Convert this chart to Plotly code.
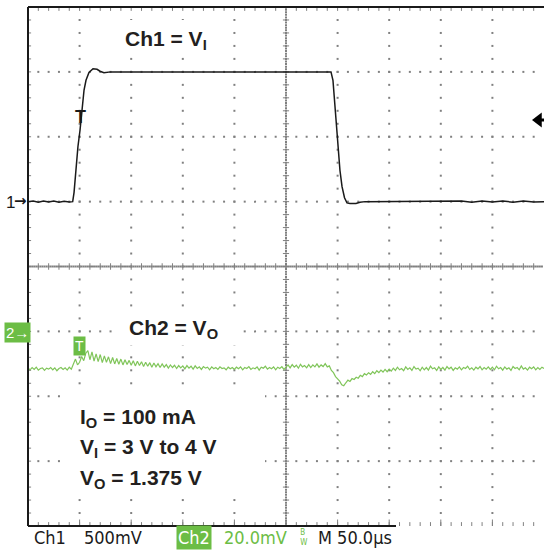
import plotly.graph_objects as go

# ---------------- data ----------------
# Ch1 = V_I  (volts), 500 mV/div, ground marker at +1 div, 3 V shown at marker
ch1_t_us = [0, 5, 10, 15, 20, 25, 30, 35, 40,
            43.3, 44.6, 46.5, 48.4, 50.4, 52.3, 54.3, 56.2, 59.1, 63.0, 66.9, 69.8, 73.6,
            80, 150, 220,
            293.6, 295.5, 297.0, 298.4, 300.4, 302.3, 304.3, 306.7, 309.1, 312.0, 317.8, 321.7, 326.6,
            360, 400, 420, 430, 440, 450, 460, 470, 480, 490, 500]
ch1_v = [3.0, 3.004, 2.996, 3.005, 2.997, 3.004, 2.996, 3.003, 2.998,
         3.0, 3.07, 3.255, 3.425, 3.55, 3.72, 3.86, 3.935, 3.995, 4.024, 4.02, 4.005, 3.994,
         4.0, 4.0, 4.0,
         4.0, 3.935, 3.78, 3.59, 3.39, 3.24, 3.115, 3.03, 2.99, 2.985, 2.985, 2.995, 3.0,
         3.0, 3.0, 3.004, 2.996, 3.005, 2.997, 3.004, 2.996, 3.005, 2.997, 3.0]

# Ch2 = V_O ripple (mV), 20 mV/div, one sample every 2 us from 0 to 500 us
ch2_step_us = 2
ch2_mv = [
    0.2, -0.3, 0.4, -0.2, 0.5, -0.4, 0.1, 0.3, -0.5, 0.2, -0.1, 0.4, -0.3, 0.3, -0.6, 0.1, 0.4, -0.2, 0.3, -0.4, 0.5, -0.1, 1.5, 3.0, 1.2,
    2.0, 3.8, 2.5, 4.8, 5.6, 2.8, 5.2, 2.4, 4.6, 2.2, 4.4, 1.9, 4.0, 2.0, 3.7, 1.6, 3.5, 1.5, 3.2, 1.4, 3.0, 1.2, 2.8, 1.3, 2.6,
    1.1, 2.5, 0.9, 2.3, 1.0, 2.2, 0.7, 2.0, 0.8, 1.9, 0.5, 1.8, 0.6, 1.6, 0.4, 1.5, 0.5, 1.3, 0.2, 1.2, 0.4, 1.1, 0.1, 1.0, 0.3,
    0.9, 0.0, 1.0, 0.2, 0.8, -0.1, 0.9, 0.1, 0.6, -0.2, 0.7, 0.2, 0.5, -0.3, 0.6, 0.0, 0.4, -0.2, 0.6, 0.1, 0.3, -0.3, 0.5, 0.0, 0.4,
    -0.2, 0.5, 0.0, 0.6, -0.3, 0.4, 0.1, 0.7, -0.2, 0.3, 0.0, 0.6, -0.4, 0.5, 0.2, 0.8, -0.1, 0.4, 0.0, 0.6, -0.3, 0.5, 0.1, 0.7, -0.2,
    0.4, 1.2, 0.3, 1.3, 0.5, 1.1, 0.2, 1.4, 0.6, 1.0, 0.3, 1.3, 0.4, 1.2, 0.6, 1.5, 0.5, 1.2, 0.7, 1.6, 0.6, 0.9, -0.5, -1.2, -2.4,
    -3.0, -3.8, -4.9, -5.2, -4.3, -3.5, -3.9, -3.0, -3.3, -2.6, -2.9, -2.0, -2.4, -1.5, -1.9, -1.2, -1.7, -0.9, -1.5, -0.6, -1.2, -0.4, -1.0, -0.2, -0.9,
    -0.1, -0.7, 0.2, -0.5, 0.5, -0.3, 0.1, -0.6, 0.6, -0.2, 0.3, -0.5, 0.7, -0.1, 0.2, -0.6, 0.5, -0.3, 0.4, -0.4, 0.8, 0.0, 0.3, -0.5, 0.6,
    -0.2, 0.4, -0.4, 0.7, 0.0, 0.5, -0.5, 0.3, -0.1, 0.6, -0.3, 0.4, 0.1, 0.8, -0.2, 0.3, -0.4, 0.5, 0.0, 0.7, -0.3, 0.4, -0.1, 0.6, -0.2,
    0.5, -0.3, 0.8, 0.0, 0.4, -0.4, 0.6, -0.1, 0.3, -0.5, 0.7, 0.1, 0.4, -0.3, 0.9, -0.1, 0.3, -0.4, 0.5, 0.0, 0.6, -0.3, 0.4, -0.2, 0.5,
    0.1,
]
ch2_t_us = [i * ch2_step_us for i in range(len(ch2_mv))]

# scope settings
TIME_PER_DIV_US = 50.0
N_HDIV, N_VDIV = 10, 8
CH1_V_PER_DIV, CH1_REF_V, CH1_REF_DIV = 0.5, 3.0, 1.0
CH2_MV_PER_DIV, CH2_OFFSET_DIV = 20.0, -1.577

# ---------------- figure ----------------
W, H = 544, 552
ML, MR, MT, MB = 28, 0, 7, 26
PW, PH = W - ML - MR, H - MT - MB
XMAX = TIME_PER_DIV_US * N_HDIV
GREEN = "#6cbd45"
TRACE_GREEN = "#80c55a"
GRID = "#808080"


def tx(px):   # pixel x -> time (us)
    return (px - ML) / PW * XMAX


def ty(py):   # pixel y -> divisions
    return 4 - (py - MT) / PH * N_VDIV


def py_paper(py):
    return 1 - (py - MT) / PH


fig = go.Figure()

# dotted graticule
gx, gy = [], []
for k in range(1, N_HDIV):
    if k == 5:
        continue
    for j in range(1, 40):
        gx.append(k * TIME_PER_DIV_US)
        gy.append(-4 + 0.2 * j)
for j in range(-3, 4):
    if j == 0:
        continue
    for i in range(1, 50):
        gx.append(10 * i)
        gy.append(j)
# center lines, dense dots
for j in range(1, 200):
    gx.append(250)
    gy.append(-4 + 0.04 * j)
for i in range(1, 250):
    gx.append(2 * i)
    gy.append(0)
fig.add_trace(go.Scatter(x=gx, y=gy, mode="markers",
                         marker=dict(symbol="square", size=2, color=GRID, line=dict(width=0)),
                         hoverinfo="skip", showlegend=False))

# tick segments on center lines and borders
sx, sy = [], []
for j in range(1, 40):
    yv = -4 + 0.2 * j
    sx += [247, 253, None]; sy += [yv, yv, None]
    sx += [0, 3, None]; sy += [yv, yv, None]
for i in range(1, 50):
    xv = 10 * i
    sx += [xv, xv, None]; sy += [-0.05, 0.05, None]
    sx += [xv, xv, None]; sy += [4, 3.94, None]
    sx += [xv, xv, None]; sy += [-4, -3.94, None]
for k in range(1, N_HDIV):
    xv = k * TIME_PER_DIV_US
    sx += [xv, xv, None]; sy += [-4, -3.9, None]
fig.add_trace(go.Scatter(x=sx, y=sy, mode="lines", line=dict(color=GRID, width=1),
                         hoverinfo="skip", showlegend=False))

# Ch2 trace
ch2_div = [CH2_OFFSET_DIV + v / CH2_MV_PER_DIV for v in ch2_mv]
fig.add_trace(go.Scatter(x=ch2_t_us, y=ch2_div, mode="lines",
                         line=dict(color=TRACE_GREEN, width=1.2),
                         hoverinfo="skip", showlegend=False))

# Ch1 trace
ch1_div = [CH1_REF_DIV + (v - CH1_REF_V) / CH1_V_PER_DIV for v in ch1_v]
fig.add_trace(go.Scatter(x=ch1_t_us, y=ch1_div, mode="lines",
                         line=dict(color="#1a1a1a", width=1.5),
                         hoverinfo="skip", showlegend=False))

# trigger level arrow at right edge
fig.add_trace(go.Scatter(x=[tx(538.5)], y=[ty(120)], mode="markers",
                         marker=dict(symbol="triangle-left", size=13, color="black"),
                         cliponaxis=False, hoverinfo="skip", showlegend=False))

shapes = []
# white boxes behind the labels
for (x0, y0, x1, y1) in [(118, 20, 222, 57), (116, 309, 240, 345), (68, 395, 265, 495)]:
    shapes.append(dict(type="rect", xref="x", yref="y", x0=tx(x0), x1=tx(x1), y0=ty(y1), y1=ty(y0),
                       fillcolor="white", line=dict(width=0), layer="above"))
# borders
shapes.append(dict(type="line", xref="paper", yref="paper", x0=0, x1=0, y0=0, y1=1,
                   line=dict(color="#1a1a1a", width=2)))
shapes.append(dict(type="line", xref="paper", yref="paper", x0=0, x1=1, y0=1, y1=1,
                   line=dict(color="#1a1a1a", width=2)))
shapes.append(dict(type="line", xref="paper", yref="paper", x0=0, x1=(396 - ML) / PW, y0=0, y1=0,
                   line=dict(color="#1a1a1a", width=2)))
shapes.append(dict(type="rect", xref="paper", yref="paper", x0=(540 - ML) / PW, x1=1,
                   y0=py_paper(121.5), y1=py_paper(118.5), fillcolor="black", line=dict(width=0)))

BOLD = "Liberation Sans, Arial, sans-serif"
SCOPE = "DejaVu Sans Condensed, Liberation Sans Narrow, DejaVu Sans, sans-serif"
ann = []


def label(text, px, py, size=21, color="#231f20", family=BOLD, xanchor="left", **kw):
    ann.append(dict(text=text, xref="paper", yref="paper",
                    x=(px - ML) / PW, y=py_paper(py), xanchor=xanchor, yanchor="middle",
                    showarrow=False, font=dict(family=family, size=size, color=color), **kw))


label("<b>Ch1 = V<sub>I</sub></b>", 123, 40)
label("<b>Ch2 = V<sub>O</sub></b>", 127, 329)
label("<b>I<sub>O</sub> = 100 mA</b>", 78, 418)
label("<b>V<sub>I</sub> = 3 V to 4 V</b>", 78, 448)
label("<b>V<sub>O</sub> = 1.375 V</b>", 78, 479)

# channel markers
label("1", 17, 202, size=17, color="#1a1a1a", family="Liberation Sans, Arial", xanchor="right")
label("<b>\u2192</b>", 29, 201, size=15, color="#1a1a1a", family="DejaVu Sans", xanchor="right")
label("2\u2192", 17.5, 332, size=15, color="white", family="Liberation Sans, Arial", xanchor="center",
      bgcolor=GREEN, borderpad=1)
label("<b>T</b>", 80, 117, size=18, color="#1a1a1a", xanchor="center")
label("T", 79.5, 345.5, size=14, color="white", family="Liberation Sans, Arial", xanchor="center",
      bgcolor=GREEN, borderpad=1)

# status line
label("Ch1", 32, 537, size=18, color="#1a1a1a", family=SCOPE)
label("500mV", 82, 537, size=18, color="#1a1a1a", family=SCOPE)
label("Ch2", 176, 537, size=18, color="white", family=SCOPE, bgcolor=GREEN, borderpad=1)
label("20.0mV", 222, 537, size=18, color=GREEN, family=SCOPE)
label("B<br> W", 296, 537, size=8, color=GREEN, family=SCOPE)
label("M 50.0\u00b5s", 316, 537, size=18, color="#1a1a1a", family=SCOPE)

fig.update_layout(
    width=W, height=H,
    margin=dict(l=ML, r=MR, t=MT, b=MB),
    paper_bgcolor="white", plot_bgcolor="white",
    xaxis=dict(range=[0, XMAX], visible=False, fixedrange=True),
    yaxis=dict(range=[-4, 4], visible=False, fixedrange=True),
    shapes=shapes, annotations=ann, showlegend=False,
)

fig.write_html("out.html", config={"displayModeBar": False, "staticPlot": True},
               post_script="document.body.style.margin='0';document.body.style.overflow='hidden';")
